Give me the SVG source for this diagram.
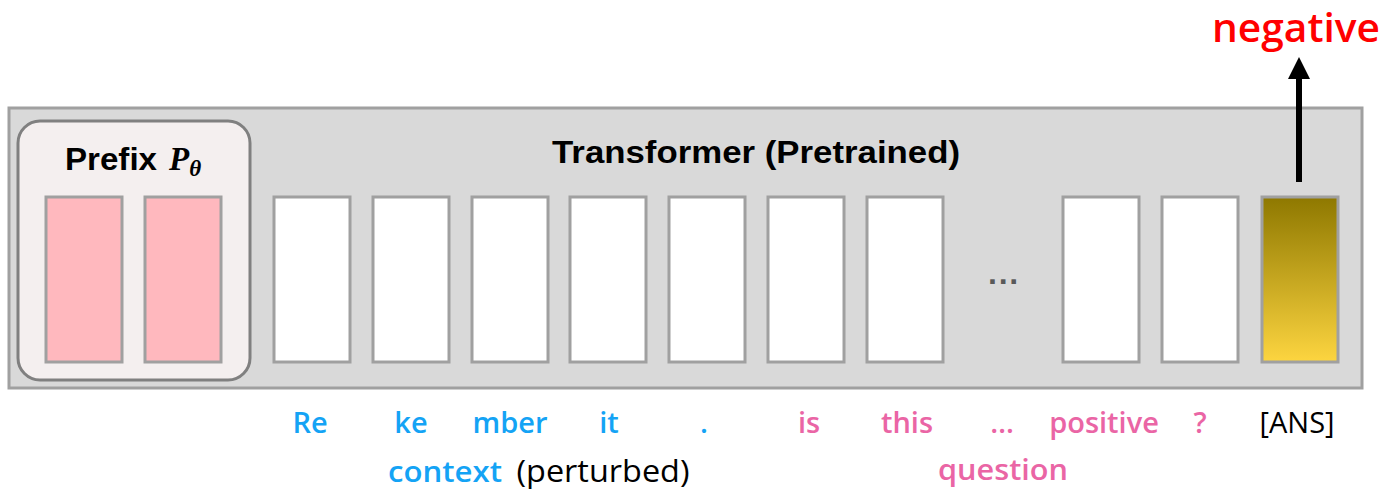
<svg xmlns="http://www.w3.org/2000/svg" width="1386" height="494" viewBox="0 0 1386 494">
<style>
.tok{fill:#ffffff;stroke:#a0a0a0;stroke-width:3}
.pre{fill:#ffb8be;stroke:#a0a0a0;stroke-width:3}
.lbl{font-family:"Open Sans","Liberation Sans",sans-serif;font-size:29px;font-weight:600;text-anchor:middle}
.blue{fill:#14a3f5}
.pink{fill:#ea65a5}
.title{font-family:"Liberation Sans",Arial,sans-serif;font-size:31px;font-weight:bold;fill:#000}
</style>
<defs>
<linearGradient id="gold" x1="0" y1="0" x2="0" y2="1">
<stop offset="0" stop-color="#8e7800"/>
<stop offset="1" stop-color="#fdd540"/>
</linearGradient>
<marker id="ah" markerWidth="22" markerHeight="22" refX="11" refY="11" orient="auto" markerUnits="userSpaceOnUse" viewBox="0 0 22 22">
<path d="M0,0 L22,11 L0,22 z" fill="#000"/>
</marker>
</defs>
<g id="transformer">
<rect x="9" y="108" width="1353" height="280" fill="#d9d9d9" stroke="#a0a0a0" stroke-width="3"/>
<text class="title" x="552" y="163" textLength="408" lengthAdjust="spacingAndGlyphs">Transformer (Pretrained)</text>
</g>
<g id="prefix">
<rect x="18" y="121" width="232" height="259" rx="22" fill="#f4efef" stroke="#808080" stroke-width="3"/>
<text class="title" x="65" y="170" textLength="92" lengthAdjust="spacingAndGlyphs">Prefix</text>
<text x="169" y="170" style="font-family:'Liberation Serif','Times New Roman',serif;font-style:italic;font-weight:bold;font-size:33px">P<tspan dy="6" style="font-size:23px">θ</tspan></text>
<rect class="pre" x="46" y="197" width="76" height="165"/>
<rect class="pre" x="145" y="197" width="76" height="165"/>
</g>
<g id="tokens">
<rect class="tok" x="274" y="197" width="76" height="165"/>
<rect class="tok" x="373" y="197" width="76" height="165"/>
<rect class="tok" x="472" y="197" width="76" height="165"/>
<rect class="tok" x="570" y="197" width="76" height="165"/>
<rect class="tok" x="669" y="197" width="76" height="165"/>
<rect class="tok" x="768" y="197" width="76" height="165"/>
<rect class="tok" x="867" y="197" width="76" height="165"/>
<text x="1004" y="292" text-anchor="middle" style="font-family:'Liberation Sans',Arial,sans-serif;font-size:32px;font-weight:bold;fill:#595959">···</text>
<rect class="tok" x="1063" y="197" width="76" height="165"/>
<rect class="tok" x="1162" y="197" width="76" height="165"/>
</g>
<g id="ans">
<rect x="1262" y="197" width="76" height="165" fill="url(#gold)" stroke="#a0a0a0" stroke-width="3"/>
</g>
<g id="connectors">
<line x1="1299" y1="182" x2="1299" y2="68" stroke="#000" stroke-width="6" marker-end="url(#ah)"/>
</g>
<g id="output">
<text x="1212" y="42" textLength="168" lengthAdjust="spacingAndGlyphs" style="font-family:'Open Sans','Liberation Sans',sans-serif;font-size:40px;font-weight:600;fill:#ff0000">negative</text>
</g>
<g id="labels">
<text class="lbl blue" x="310" y="433">Re</text>
<text class="lbl blue" x="411" y="433">ke</text>
<text class="lbl blue" x="510" y="433">mber</text>
<text class="lbl blue" x="609" y="433">it</text>
<text class="lbl blue" x="704" y="433">.</text>
<text class="lbl pink" x="809" y="433">is</text>
<text class="lbl pink" x="907" y="433">this</text>
<text class="lbl pink" x="1002" y="433">…</text>
<text class="lbl pink" x="1104" y="433">positive</text>
<text class="lbl pink" x="1200" y="433">?</text>
<text class="lbl" x="1297" y="433" fill="#000" style="font-weight:500">[ANS]</text>
<text class="lbl blue" x="445" y="482" textLength="114" lengthAdjust="spacingAndGlyphs">context</text>
<text class="lbl" x="603" y="482" fill="#000" style="font-weight:500;font-size:31px" textLength="173" lengthAdjust="spacingAndGlyphs">(perturbed)</text>
<text class="lbl pink" x="1003" y="480" textLength="130" lengthAdjust="spacingAndGlyphs">question</text>
</g>
</svg>
